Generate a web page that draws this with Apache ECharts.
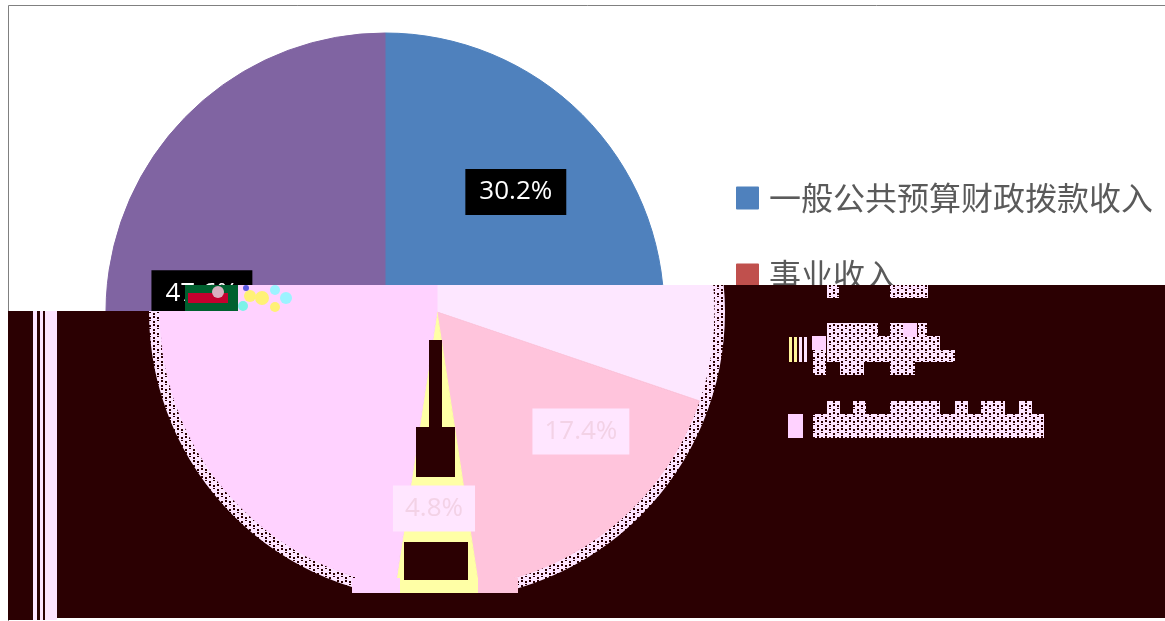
<!DOCTYPE html>
<html><head><meta charset="utf-8">
<style>
html,body{margin:0;padding:0;background:#fff;width:1165px;height:621px;overflow:hidden}
#base,#glitch{position:absolute;left:0;top:0;width:1165px;height:621px}
#glitchWrap{position:absolute;left:0;top:0;width:1165px;height:621px;background:#2b0002;
clip-path:polygon(8px 311px,238px 311px,238px 285px,1165px 285px,1165px 618px,57px 618px,57px 620px,8px 620px)}
</style>
<script src="https://cdn.jsdelivr.net/npm/echarts@6/dist/echarts.min.js"></script>
</head><body>
<div id="base"></div>
<div id="glitchWrap"><div id="glitch"></div></div>
<script>
// Names of the 3rd and 4th slices are illegible in the reference and are never drawn.
const categories = ['一般公共预算财政拨款收入', '事业收入', '(illegible 3)', '(illegible 4)'];
const values = [30.2, 17.4, 4.8, 47.6];
const legendNames = ['一般公共预算财政拨款收入', '事业收入'];
const baseColors = ['#4F81BD', '#C0504D', '#9BBB59', '#8064A2'];
const glitchColors = ['#FDE7FF', '#FFC4DC', '#FFFFA6', '#FFD2FF'];
const labelOffsets = [[15, -37], [53, 11], [-3, 55], [-41, -8]];

const MAROON = '#2b0002', PALE = '#FDE4FF';
const tile = document.createElement('canvas');
tile.width = tile.height = 8;
const t = tile.getContext('2d');
t.fillStyle = PALE; t.fillRect(0, 0, 8, 8);
t.fillStyle = MAROON; t.fillRect(1, 1, 2, 2); t.fillRect(5, 5, 2, 2);
t.fillRect(5, 0, 2, 1); t.fillRect(1, 4, 2, 2);
const checker = { image: tile, repeat: 'repeat' };

const fmt = p => p.value.toFixed(1) + '%';
const sliceData = (colors, labelOf) => categories.map((name, i) => ({
  name, value: values[i], itemStyle: { color: colors[i], borderColor: colors[i], borderWidth: 1 }, label: labelOf(i)
}));
const layout = p => ({ dx: labelOffsets[p.dataIndex][0], dy: labelOffsets[p.dataIndex][1] });

const rect = (x, y, width, height, fill) => ({ type: 'rect', z: 100, silent: true, shape: { x, y, width, height }, style: { fill } });
const dot = (cx, cy, r, fill) => ({ type: 'circle', z: 100, silent: true, shape: { cx, cy, r }, style: { fill } });

echarts.init(document.getElementById('base'), null, { renderer: 'canvas' }).setOption({
  animation: false,
  backgroundColor: '#fff',
  legend: {
    orient: 'vertical', left: 731, top: 177, data: legendNames, icon: 'rect',
    itemWidth: 21, itemHeight: 21, itemGap: 45, selectedMode: false,
    textStyle: { fontFamily: '"Noto Sans CJK SC"', fontSize: 32, color: '#5a5a5a', padding: [0, 0, 0, 6] }
  },
  series: [{
    type: 'pie', center: [385, 312], radius: [0, 279], startAngle: 90, clockwise: true, silent: true,
    labelLine: { show: false }, labelLayout: layout,
    data: sliceData(baseColors, () => ({
      show: true, position: 'inside', formatter: fmt, color: '#fff', backgroundColor: '#000',
      fontFamily: '"Open Sans"', fontSize: 26, padding: [10, 14, 10, 14]
    }))
  }],
  graphic: [
    { type: 'rect', z: 90, silent: true, shape: { x: 8.5, y: 5.5, width: 1170, height: 620 }, style: { fill: 'none', stroke: '#808080', lineWidth: 1 } },
    rect(185, 285, 53, 26, '#00602f'),
    rect(188, 293, 40, 10, '#c4002e'),
    dot(218, 292, 6, '#d9b0c0')
  ]
});

const noise = [[262, 298, 7, '#FFF176'], [275, 290, 5, '#9CF3FF'], [286, 298, 6, '#9CF3FF'], [275, 307, 5, '#FFF176'], [250, 296, 6, '#FFF176'], [243, 306, 5, '#7CF2E8'], [246, 288, 3, '#5a5ae0']];
const checkerBlocks = [
  [827, 285, 12, 13], [890, 285, 38, 13],
  [813, 350, 13, 25], [827, 323, 51, 39], [840, 362, 24, 13], [878, 336, 12, 26], [890, 323, 25, 52], [918, 323, 9, 13], [915, 336, 25, 26], [940, 350, 15, 12],
  [813, 414, 231, 24], [827, 401, 13, 13], [853, 401, 13, 13], [890, 401, 50, 13], [955, 401, 13, 13], [981, 401, 24, 13], [1019, 401, 13, 13]
];

echarts.init(document.getElementById('glitch'), null, { renderer: 'canvas' }).setOption({
  animation: false,
  backgroundColor: 'transparent',
  series: [
    {
      type: 'pie', center: [437, 312], radius: [276, 288], silent: true, label: { show: false }, labelLine: { show: false },
      z: 1, data: [{ value: 1, name: 'edge', itemStyle: { color: checker } }]
    },
    {
      type: 'pie', center: [437, 312], radius: [0, 277], startAngle: 90, clockwise: true, silent: true, z: 2,
      labelLine: { show: false }, labelLayout: layout,
      data: sliceData(glitchColors, i => (i === 1 || i === 2) ? {
        show: true, position: 'inside', formatter: fmt, color: '#f3d2e6', backgroundColor: '#FFE6FF',
        fontFamily: '"Open Sans"', fontSize: 26, padding: [10, 12, 10, 12]
      } : { show: false })
    }
  ],
  graphic: [
    rect(33, 285, 4, 340, PALE), rect(40, 285, 3, 340, PALE), rect(45, 285, 12, 340, PALE),
    rect(352, 578, 50, 15, '#FFD2FF'), rect(400, 578, 78, 15, '#FFFFA6'), rect(478, 578, 40, 15, '#FFC4DC'),
    rect(300, 593, 280, 12, MAROON),
    rect(429, 340, 13, 87, MAROON), rect(416, 427, 39, 50, MAROON), rect(404, 542, 64, 38, MAROON),
    rect(788, 414, 15, 24, '#FFD2FF'), rect(812, 336, 14, 14, '#FFD2FF'),
    rect(789, 337, 3, 25, '#FFF59A'), rect(794, 337, 3, 25, '#FFF59A'), rect(799, 337, 3, 25, PALE), rect(804, 337, 3, 25, PALE),
    ...checkerBlocks.map(b => rect(b[0], b[1], b[2], b[3], checker)),
    rect(903, 323, 14, 14, '#FFD2FF'),
    ...noise.map(n => dot(n[0], n[1], n[2], n[3]))
  ]
});
</script>
</body></html>
